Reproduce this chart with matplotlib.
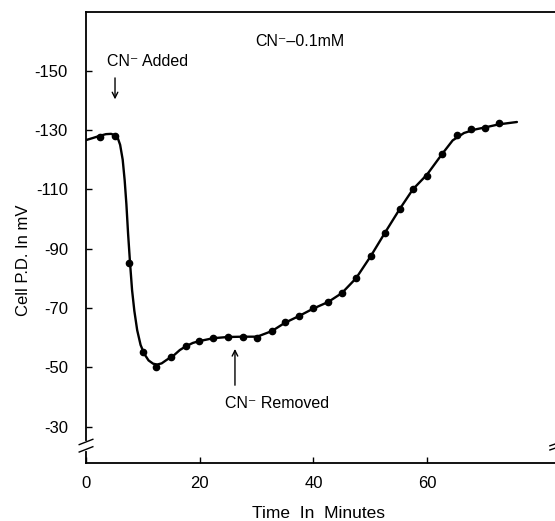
import matplotlib
matplotlib.use("Agg")
import matplotlib.pyplot as plt

plt.rcParams['font.family'] = ['Liberation Sans', 'DejaVu Sans']
plt.rcParams['axes.unicode_minus'] = False

# measured points (minutes, cell P.D. in mV)
time_pts = [2.5, 5.1, 7.6, 10.0, 12.3, 14.9, 17.6, 19.9, 22.4, 25.0, 27.6, 30.1,
            32.7, 35.0, 37.5, 40.0, 42.6, 45.0, 47.5, 50.1, 52.6, 55.2, 57.5,
            60.0, 62.6, 65.3, 67.7, 70.2, 72.6]
pd_pts = [-127.6, -128.0, -85.0, -55.1, -50.0, -53.4, -57.1, -58.8, -59.8,
          -60.2, -60.2, -60.0, -62.2, -65.2, -67.3, -70.0, -72.0, -75.0,
          -80.0, -87.5, -95.4, -103.4, -110.0, -114.5, -122.0, -128.3,
          -130.3, -130.7, -132.4]

# hand-drawn smooth curve
curve_t = [0.0, 1.2, 2.35, 3.5, 4.4, 5.0, 5.6, 6.0, 6.45, 6.8, 7.1, 7.4, 7.75,
           8.1, 8.5, 9.0, 9.6, 10.25, 11.0, 11.8, 12.5, 13.3, 14.2, 15.5, 16.5,
           17.6, 18.8, 19.9, 22.4, 25.0, 27.6, 30.1, 32.7, 35.0, 37.5, 40.0,
           42.6, 45.0, 47.5, 50.1, 52.6, 55.2, 57.5, 60.0, 62.6, 64.5, 66.5,
           68.5, 70.5, 72.6, 75.8]
curve_pd = [-126.6, -127.3, -128.0, -128.6, -128.7, -128.3, -127.2, -125.0,
            -120.0, -113.0, -105.0, -95.0, -85.0, -76.0, -69.0, -62.5, -57.5,
            -54.5, -52.3, -51.2, -50.9, -51.3, -52.5, -54.1, -55.8, -57.1,
            -58.2, -58.8, -59.8, -60.2, -60.3, -60.3, -62.2, -65.0, -67.3,
            -69.8, -72.0, -75.0, -80.0, -87.5, -95.4, -103.4, -110.0, -115.0,
            -121.8, -126.5, -129.0, -130.2, -131.0, -131.9, -132.7]

fig = plt.figure(figsize=(5.55, 5.21), dpi=100)
ax = fig.add_axes([0.155, 0.1113, 0.845, 0.8657])

ax.plot(curve_t, curve_pd, color='black', lw=1.7, solid_capstyle='round',
        solid_joinstyle='round')
ax.plot(time_pts, pd_pts, 'o', color='black', markersize=4.5)

ax.set_xlim(0, 82.5)
ax.set_ylim(-17.7, -169.8)
ax.set_xticks([0, 20, 40, 60])
ax.set_yticks([-150, -130, -110, -90, -70, -50, -30])
ax.tick_params(direction='in', length=4, width=1, labelsize=12)
ax.tick_params(axis='y', pad=13)
ax.tick_params(axis='x', pad=9)

ax.spines['right'].set_visible(False)
for s in ['left', 'bottom', 'top']:
    ax.spines[s].set_linewidth(1.3)

ax.set_ylabel('Cell P.D. In mV', fontsize=12)
ax.yaxis.set_label_coords(-0.117, 0.45)
ax.set_xlabel('Time  In  Minutes', fontsize=12.5)
ax.xaxis.set_label_coords(0.495, -0.095)

ax.text(37.6, -159.7, 'CN\u207b\u20130.1mM', fontsize=11.5, ha='center', va='center')
ax.text(10.9, -153.0, 'CN\u207b Added', fontsize=11.5, ha='center', va='center')
ax.annotate('', xy=(5.1, -139.4), xytext=(5.1, -148.5),
            arrowprops=dict(arrowstyle='->', color='black', lw=1.0))
ax.text(33.6, -37.9, 'CN\u207b Removed', fontsize=11.5, ha='center', va='center')
ax.annotate('', xy=(26.2, -57.1), xytext=(26.2, -43.0),
            arrowprops=dict(arrowstyle='->', color='black', lw=1.0))

# axis break marks
ax.plot([0.0, 0.0], [-24.5, -22.5], color='white', lw=3, clip_on=False, zorder=5)
for dy in (-24.8, -22.3):
    ax.plot([-1.2, 1.2], [dy + 0.9, dy - 0.9], color='black', lw=1.0,
            clip_on=False, zorder=6)
for dy in (-23.8, -22.4):
    ax.plot([81.6, 82.5], [dy + 0.3, dy - 0.3], color='black', lw=1.0,
            clip_on=False, zorder=6)

fig.savefig('out.png', dpi=100)
